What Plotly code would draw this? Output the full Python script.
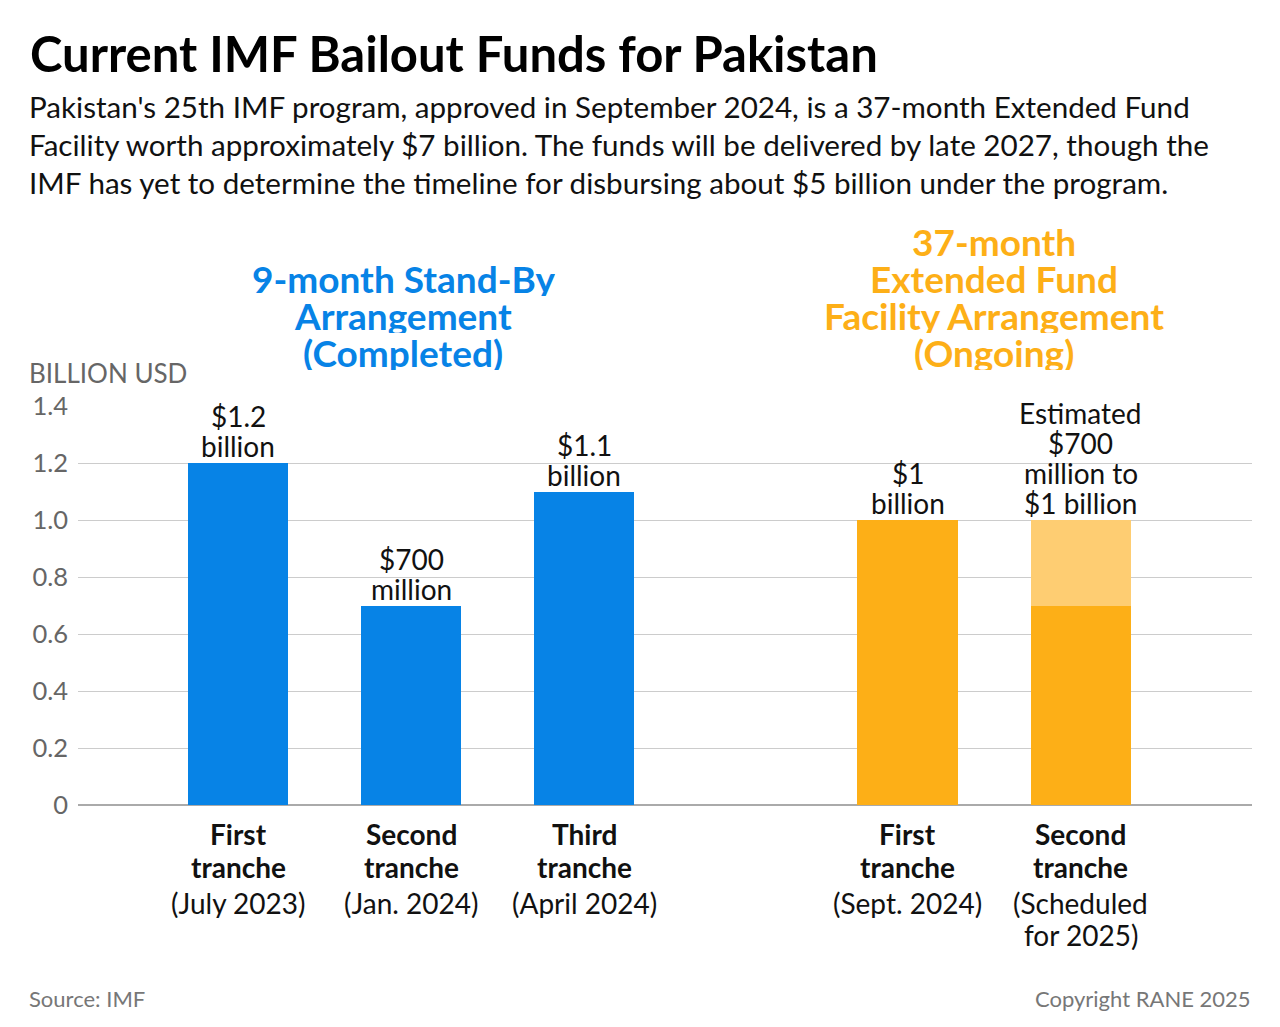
import plotly.graph_objects as go

# Data
tranches = ["First tranche", "Second tranche", "Third tranche", "First tranche", "Second tranche"]
tranche_dates = ["(July 2023)", "(Jan. 2024)", "(April 2024)", "(Sept. 2024)", "(Scheduled<br>for 2025)"]
program_group = [0, 0, 0, 1, 1]
confirmed_bn = [1.2, 0.7, 1.1, 1.0, 0.7]
upper_range_bn = [0, 0, 0, 0, 0.3]
value_labels = [
    "$1.2<br>billion",
    "$700<br>million",
    "$1.1<br>billion",
    "$1<br>billion",
    "Estimated<br>$700<br>million to<br>$1 billion",
]
group_titles = [
    "9-month Stand-By<br>Arrangement<br>(Completed)",
    "37-month<br>Extended Fund<br>Facility Arrangement<br>(Ongoing)",
]
subtitle_lines = [
    "Pakistan's 25th IMF program, approved in September 2024, is a 37-month Extended Fund",
    "Facility worth approximately $7 billion. The funds will be delivered by late 2027, though the",
    "IMF has yet to determine the timeline for disbursing about $5 billion under the program.",
]
y_ticks = [0, 0.2, 0.4, 0.6, 0.8, 1.0, 1.2, 1.4]

BLUE = "#0783e6"
ORANGE = "#fdaf17"
ORANGE_LIGHT = "#fecd72"
GROUP_COLORS = [BLUE, ORANGE]
HEADER_XSHIFT = [-8, 0]
FONT = "Lato"
TEXT = "#111111"
GREY = "#666666"

# page body has an 8px margin, so the figure is a bit smaller than the window
W, H = 1264, 1011
PLOT_TOP, PLOT_BOTTOM = 406, 805  # page pixels
PLOT_W = 1174
LEFT_TEXT = (27 - 78) / PLOT_W  # paper x of the left text column
RIGHT_TEXT = (1253 - 78) / PLOT_W

# x positions: categories in sequence, with extra space between the two programs
GROUP_GAP = 0.87
x_pos = [i + GROUP_GAP * g for i, g in enumerate(program_group)]
bar_colors = [GROUP_COLORS[g] for g in program_group]

fig = go.Figure()

fig.add_trace(
    go.Bar(
        x=x_pos,
        y=confirmed_bn,
        marker=dict(color=bar_colors, line=dict(width=0)),
        width=0.58,
        hoverinfo="y",
    )
)
fig.add_trace(
    go.Bar(
        x=x_pos,
        y=upper_range_bn,
        marker=dict(color=ORANGE_LIGHT, line=dict(width=0)),
        width=0.58,
        hoverinfo="y",
    )
)

# value labels above bars (one annotation per line for tight spacing)
for x, lo, hi, label in zip(x_pos, confirmed_bn, upper_range_bn, value_labels):
    lines = label.split("<br>")
    for k, line in enumerate(reversed(lines)):
        fig.add_annotation(
            x=x, y=lo + hi, xref="x", yref="y",
            text=line, showarrow=False, yanchor="middle",
            yshift=17 + 30 * k, height=28, borderpad=0,
            font=dict(family=FONT, size=28, color=TEXT),
        )

# category labels under the bars
for x, name, date in zip(x_pos, tranches, tranche_dates):
    for i, word in enumerate(name.split(" ")):
        fig.add_annotation(
            x=x, y=0, xref="x", yref="paper", text=f"<b>{word}</b>",
            showarrow=False, yanchor="middle", yshift=PLOT_BOTTOM - (833 + 33 * i),
            height=31, borderpad=0,
            font=dict(family=FONT, size=28, color=TEXT),
        )
    for i, line in enumerate(date.split("<br>")):
        fig.add_annotation(
            x=x, y=0, xref="x", yref="paper", text=line,
            showarrow=False, yanchor="middle", yshift=PLOT_BOTTOM - (903 + 32 * i),
            height=30, borderpad=0,
            font=dict(family=FONT, size=28, color=TEXT),
        )

# group headers, bottom line sits at the same height for both
for g, title in enumerate(group_titles):
    xs = [x for x, pg in zip(x_pos, program_group) if pg == g]
    lines = title.split("<br>")
    for k, line in enumerate(reversed(lines)):
        fig.add_annotation(
            x=(min(xs) + max(xs)) / 2, y=1, xref="x", yref="paper",
            text=f"<b>{line}</b>", showarrow=False, yanchor="middle",
            xshift=HEADER_XSHIFT[g],
            yshift=PLOT_TOP - (352 - 37 * k), height=35, borderpad=0,
            font=dict(family=FONT, size=37, color=GROUP_COLORS[g]),
        )

# subtitle
for i, line in enumerate(subtitle_lines):
    fig.add_annotation(
        x=LEFT_TEXT, y=1, xref="paper", yref="paper", text=line,
        showarrow=False, xanchor="left", yanchor="middle",
        yshift=PLOT_TOP - (106 + 38 * i),
        font=dict(family=FONT, size=29.6, color=TEXT),
    )

# unit label
fig.add_annotation(
    x=LEFT_TEXT, y=1, xref="paper", yref="paper", text="BILLION USD",
    showarrow=False, xanchor="left", yanchor="middle", yshift=PLOT_TOP - 373,
    font=dict(family=FONT, size=26, color=GREY),
)

# footer
fig.add_annotation(
    x=LEFT_TEXT, y=0, xref="paper", yref="paper", text="Source: IMF",
    showarrow=False, xanchor="left", yanchor="middle", yshift=PLOT_BOTTOM - 998,
    font=dict(family=FONT, size=22, color="#777777"),
)
fig.add_annotation(
    x=RIGHT_TEXT, y=0, xref="paper", yref="paper", text="Copyright RANE 2025",
    showarrow=False, xanchor="right", yanchor="middle", yshift=PLOT_BOTTOM - 998,
    font=dict(family=FONT, size=22, color="#777777"),
)

fig.update_layout(
    title=dict(
        text="<b>Current IMF Bailout Funds for Pakistan</b>",
        x=22 / W, xref="container", xanchor="left",
        y=1 - 47 / H, yref="container", yanchor="middle",
        font=dict(family=FONT, size=49, color="#000000"),
    ),
    barmode="stack",
    showlegend=False,
    width=W,
    height=H,
    margin=dict(l=70, r=20, t=PLOT_TOP - 8, b=8 + H - PLOT_BOTTOM),
    plot_bgcolor="white",
    paper_bgcolor="white",
    font=dict(family=FONT),
    xaxis=dict(
        range=[-0.925, 5.86],
        showticklabels=False,
        showgrid=False,
        zeroline=False,
        showline=False,
        ticks="",
        fixedrange=True,
    ),
    yaxis=dict(
        range=[0, 1.4],
        tickvals=y_ticks,
        ticktext=["0" if v == 0 else f"{v:.1f}" for v in y_ticks],
        tickfont=dict(family=FONT, size=25.5, color=GREY),
        showgrid=True,
        gridcolor="#cccccc",
        gridwidth=1,
        zeroline=True,
        zerolinecolor="#aaaaaa",
        zerolinewidth=1.5,
        ticks="",
        ticklabelstandoff=9,
        fixedrange=True,
    ),
)

fig.write_html("out.html")
